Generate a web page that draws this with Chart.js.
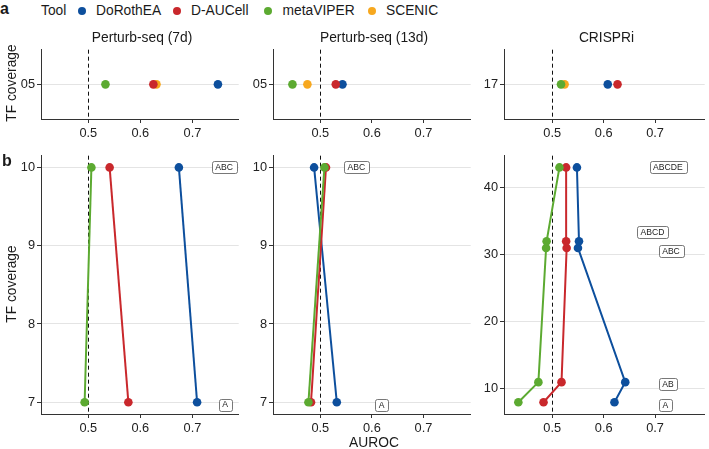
<!DOCTYPE html>
<html><head><meta charset="utf-8">
<script src="https://cdn.jsdelivr.net/npm/chart.js@4/dist/chart.umd.min.js"></script>
<style>
html,body{margin:0;padding:0;background:#fff;}
body{width:709px;height:449px;position:relative;overflow:hidden;font-family:"Liberation Sans",Arial,sans-serif;color:#1a1a1a;}
.abs{position:absolute;white-space:nowrap;line-height:1;}
canvas{position:absolute;}
</style></head><body>
<script>
// ================= DATA =================
const tools = ['DoRothEA', 'D-AUCell', 'metaVIPER', 'SCENIC'];
const toolColors = ['#0D4F9D', '#C9282C', '#5CAA31', '#F7A81F'];
const panelTitles = ['Perturb-seq (7d)', 'Perturb-seq (13d)', 'CRISPRi'];
const xTicks = [0.5, 0.6, 0.7];
const refValue = 0.5;

// Panel a: one TF-coverage row per dataset, AUROC per tool (tools order)
const topCategory7d = ['05'];
const topCategory13d = ['05'];
const topCategoryCrispri = ['17'];
const topAuroc7d = [0.749, 0.625, 0.533, 0.631];
const topAuroc13d = [0.543, 0.530, 0.446, 0.475];
const topAurocCrispri = [0.608, 0.627, 0.517, 0.524];

// Panel b: AUROC versus TF coverage (DoRothEA, D-AUCell, metaVIPER)
const coverage7d = [7, 10];
const dorothea7d = [0.709, 0.674];
const daucell7d = [0.577, 0.541];
const metaviper7d = [0.493, 0.506];

const coverage13d = [7, 10];
const dorothea13d = [0.532, 0.488];
const daucell13d = [0.482, 0.511];
const metaviper13d = [0.477, 0.508];

const coverageCrispri = [8, 11, 31, 32, 43];
const dorotheaCrispri = [0.621, 0.642, 0.550, 0.552, 0.548];
const daucellCrispri = [0.483, 0.518, 0.528, 0.527, 0.527];
const metaviperCrispri = [0.434, 0.473, 0.488, 0.489, 0.514];

const yTicks7d = [7, 8, 9, 10];
const yTicks13d = [7, 8, 9, 10];
const yTicksCrispri = [10, 20, 30, 40];

// Confidence-level labels (text, AUROC position, coverage position)
const labelText7d = ['ABC', 'A'];
const labelX7d = [0.761, 0.763];
const labelY7d = [10.0, 6.97];
const labelText13d = ['ABC', 'A'];
const labelX13d = [0.570, 0.619];
const labelY13d = [10.0, 6.96];
const labelTextCrispri = ['ABCDE', 'ABCD', 'ABC', 'AB', 'A'];
const labelXCrispri = [0.725, 0.695, 0.731, 0.725, 0.720];
const labelYCrispri = [43.1, 33.4, 30.5, 10.7, 7.6];

// ================= LAYOUT / STYLE =================
const FONT = '"Liberation Sans", Arial, sans-serif';
Chart.defaults.font.family = FONT;
const cols = [
  { left: 41, right: 243, xmin: 0.4092, xmax: 0.7889 },
  { left: 273, right: 475, xmin: 0.4083, xmax: 0.7916 },
  { left: 504, right: 709, xmin: 0.4061, xmax: 0.7966 }
];
const YW = 30, XH = 26, PADT = 7;
const TOP = { top: 47, bottom: 119 };
const BOT = { top: 153, bottom: 414 };
const TICKSIZE = 12.8;

function addText(txt, x, y, opts) {
  const d = document.createElement('div');
  d.className = 'abs';
  d.textContent = txt;
  d.style.fontSize = (opts.size || 13.8) + 'px';
  if (opts.bold) d.style.fontWeight = 'bold';
  d.style.left = x + 'px';
  d.style.top = y + 'px';
  let tf = 'translate(-50%,-50%)';
  if (opts.anchor === 'left') tf = 'translate(0,-50%)';
  if (opts.rotate) tf += ' rotate(-90deg)';
  d.style.transform = tf;
  document.body.appendChild(d);
  return d;
}

const refLinePlugin = {
  id: 'refLine',
  beforeDatasetsDraw(chart, args, opts) {
    if (opts.value == null) return;
    const ctx = chart.ctx, a = chart.chartArea;
    const x = Math.round(chart.scales.x.getPixelForValue(opts.value)) + 0.5;
    ctx.save();
    ctx.setLineDash([4, 3]);
    ctx.strokeStyle = '#111';
    ctx.lineWidth = 1;
    ctx.beginPath();
    ctx.moveTo(x, a.top);
    ctx.lineTo(x, a.bottom);
    ctx.stroke();
    ctx.restore();
  }
};
const boxLabelPlugin = {
  id: 'boxLabels',
  afterDatasetsDraw(chart, args, opts) {
    if (!opts.text) return;
    const ctx = chart.ctx;
    ctx.save();
    ctx.font = '8.6px ' + FONT;
    ctx.textAlign = 'center';
    ctx.textBaseline = 'middle';
    opts.text.forEach((t, i) => {
      const cx = chart.scales.x.getPixelForValue(opts.x[i]);
      const cy = chart.scales.y.getPixelForValue(opts.y[i]);
      const w = ctx.measureText(t).width + 7, h = 12;
      const x0 = Math.round(cx - w / 2) + 0.5, y0 = Math.round(cy - h / 2) + 0.5;
      ctx.beginPath();
      ctx.roundRect(x0, y0, Math.round(w), h, 2);
      ctx.fillStyle = '#fff';
      ctx.fill();
      ctx.strokeStyle = '#555';
      ctx.lineWidth = 0.8;
      ctx.stroke();
      ctx.fillStyle = '#222';
      ctx.fillText(t, cx, cy + 0.5);
    });
    ctx.restore();
  }
};
Chart.register(refLinePlugin, boxLabelPlugin);

function xScale(col) {
  return {
    type: 'linear', min: col.xmin, max: col.xmax,
    afterBuildTicks: s => { s.ticks = xTicks.map(v => ({ value: v })); },
    afterFit: s => { s.height = XH; },
    grid: { drawOnChartArea: false, drawTicks: true, tickLength: 4, tickColor: '#333', tickWidth: 1 },
    border: { display: true, color: '#333', width: 1 },
    ticks: { padding: 3, color: '#222', font: { size: TICKSIZE }, maxRotation: 0, callback: v => Number(v).toFixed(1) }
  };
}
const yGrid = { color: '#E4E4E4', lineWidth: 1, drawTicks: true, tickLength: 4, tickColor: '#333', tickWidth: 1 };

function makeCanvas(col, row) {
  const c = document.createElement('canvas');
  const w = col.right - col.left + YW;
  const h = (row.bottom - row.top) + PADT + XH;
  c.width = w; c.height = h;
  c.style.width = w + 'px'; c.style.height = h + 'px';
  c.style.left = (col.left - YW) + 'px';
  c.style.top = (row.top - PADT) + 'px';
  document.body.appendChild(c);
  return c;
}

function baseOptions(col, yScale, plugins) {
  return {
    responsive: false, animation: false, devicePixelRatio: 1,
    layout: { padding: { top: PADT, left: 0, right: 0, bottom: 0 } },
    plugins: Object.assign({ legend: { display: false }, tooltip: { enabled: false } }, plugins),
    scales: { x: xScale(col), y: yScale }
  };
}

// ---- Panel a (top row) ----
const drawOrderTop = [2, 1, 0, 3];
function topChart(ci, cats, values) {
  const col = cols[ci];
  const ds = drawOrderTop.map(t => ({
    label: tools[t],
    data: [{ x: values[t], y: cats[0] }],
    backgroundColor: toolColors[t], borderColor: toolColors[t],
    pointRadius: 4.3, pointBorderWidth: 0, pointHoverRadius: 4.3
  }));
  const yScale = {
    type: 'category', labels: cats, offset: true,
    afterFit: s => { s.width = YW; },
    grid: Object.assign({ offset: false }, yGrid),
    border: { display: true, color: '#333', width: 1 },
    ticks: { padding: 2, color: '#222', font: { size: TICKSIZE } }
  };
  new Chart(makeCanvas(col, TOP), {
    type: 'scatter', data: { datasets: ds },
    options: baseOptions(col, yScale, { refLine: { value: refValue } })
  });
}
topChart(0, topCategory7d, topAuroc7d);
topChart(1, topCategory13d, topAuroc13d);
topChart(2, topCategoryCrispri, topAurocCrispri);

// ---- Panel b (bottom row) ----
function botChart(ci, cov, series, yTicks, ymin, ymax, lt, lx, ly) {
  const col = cols[ci];
  // draw order: metaVIPER, D-AUCell, DoRothEA
  const order = [2, 1, 0];
  const ds = order.map(t => ({
    label: tools[t],
    data: cov.map((c, i) => ({ x: series[t][i], y: c })),
    showLine: true, borderWidth: 2,
    backgroundColor: toolColors[t], borderColor: toolColors[t],
    pointRadius: 4.3, pointBorderWidth: 0, pointHoverRadius: 4.3
  }));
  const yScale = {
    type: 'linear', min: ymin, max: ymax,
    afterBuildTicks: s => { s.ticks = yTicks.map(v => ({ value: v })); },
    afterFit: s => { s.width = YW; },
    grid: yGrid,
    border: { display: true, color: '#333', width: 1 },
    ticks: { padding: 2, color: '#222', font: { size: TICKSIZE } }
  };
  new Chart(makeCanvas(col, BOT), {
    type: 'scatter', data: { datasets: ds },
    options: baseOptions(col, yScale, { refLine: { value: refValue }, boxLabels: { text: lt, x: lx, y: ly } })
  });
}
botChart(0, coverage7d, [dorothea7d, daucell7d, metaviper7d], yTicks7d, 6.85, 10.15, labelText7d, labelX7d, labelY7d);
botChart(1, coverage13d, [dorothea13d, daucell13d, metaviper13d], yTicks13d, 6.85, 10.15, labelText13d, labelX13d, labelY13d);
botChart(2, coverageCrispri, [dorotheaCrispri, daucellCrispri, metaviperCrispri], yTicksCrispri, 6.25, 44.75, labelTextCrispri, labelXCrispri, labelYCrispri);

// ---- Text: panel letters, legend, titles, axis titles ----
addText('a', 0, 9, { size: 16, bold: true, anchor: 'left' });
addText('b', 2, 161, { size: 16, bold: true, anchor: 'left' });
addText('Tool', 41, 11, { anchor: 'left' });
const legendDotX = [81.7, 176.7, 268.3, 371.7];
tools.forEach((t, i) => {
  const dot = document.createElement('div');
  dot.className = 'abs';
  Object.assign(dot.style, {
    left: (legendDotX[i] - 4.2) + 'px', top: (11 - 4.2) + 'px', width: '8.4px', height: '8.4px',
    borderRadius: '50%', background: toolColors[i]
  });
  document.body.appendChild(dot);
  addText(t, legendDotX[i] + 14.3, 11, { anchor: 'left' });
});
panelTitles.forEach((t, i) => addText(t, (cols[i].left + cols[i].right) / 2, 38, {}));
addText('TF coverage', 12, (TOP.top + TOP.bottom) / 2, { rotate: true });
addText('TF coverage', 12, (BOT.top + BOT.bottom) / 2, { rotate: true });
addText('AUROC', (cols[1].left + cols[1].right) / 2, 443, {});
</script>
</body></html>
